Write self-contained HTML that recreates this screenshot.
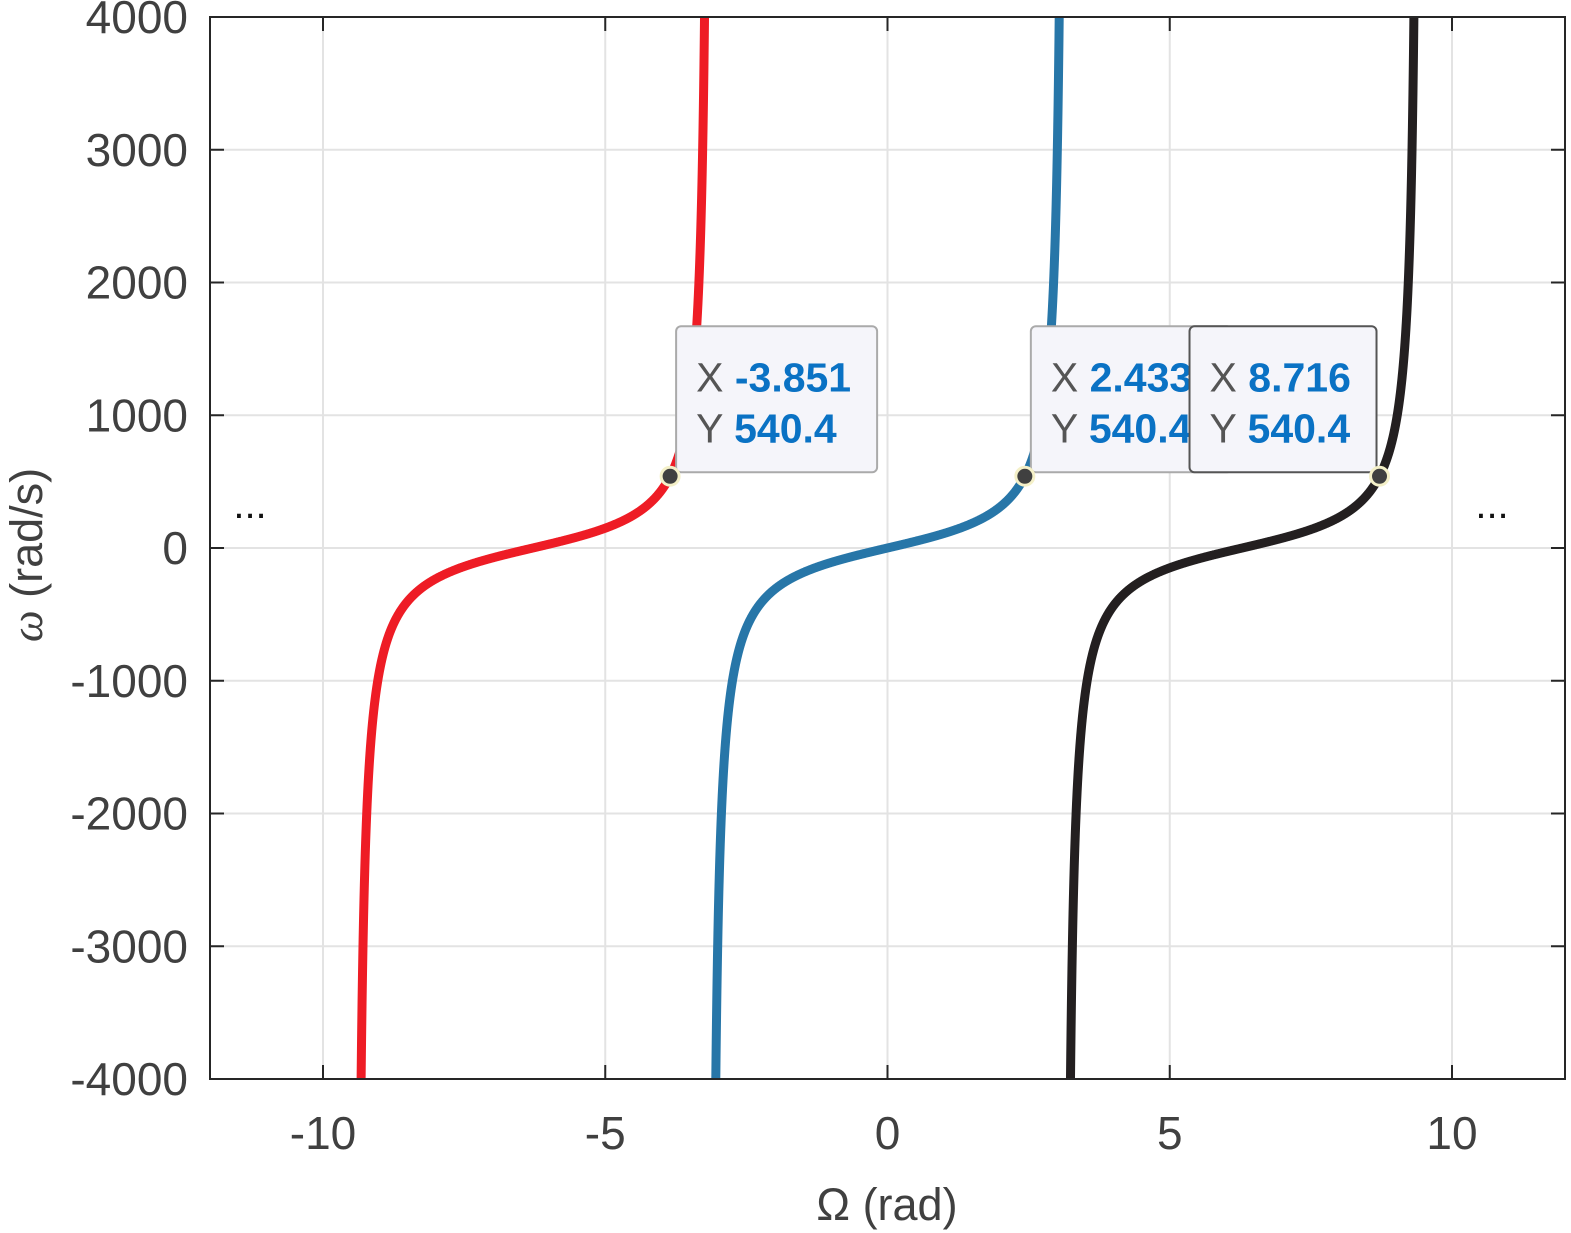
<!DOCTYPE html>
<html><head><meta charset="utf-8"><style>
html,body{margin:0;background:#fff;overflow:hidden;width:1571px;height:1233px}
svg{display:block}
svg text{font-family:"Liberation Sans",sans-serif}
</style></head><body>
<svg id="chart" width="1571" height="1233" viewBox="0 0 1571 1233" xmlns="http://www.w3.org/2000/svg">
<defs><clipPath id="clip"><rect x="210" y="17" width="1355" height="1062"/></clipPath></defs>
<g id="grid"></g>
<g id="curves" clip-path="url(#clip)"></g>
<rect x="210" y="17" width="1355" height="1062" fill="none" stroke="#262626" stroke-width="2"/>
<g id="ticks"></g>
<text x="250" y="518" font-size="40" text-anchor="middle" fill="#111">...</text>
<text x="1492" y="518" font-size="40" text-anchor="middle" fill="#111">...</text>
<text x="887" y="1220" font-size="45" text-anchor="middle" fill="#404040">Ω (rad)</text>
<text transform="translate(42,555) rotate(-90)" font-size="45" text-anchor="middle" fill="#404040"><tspan font-family="Liberation Serif" font-style="italic">ω</tspan> (rad/s)</text>
<g id="tips"></g>
</svg>
<script>
const xTicks=[-10,-5,0,5,10];
const yTicks=[-4000,-3000,-2000,-1000,0,1000,2000,3000,4000];
const shifts=[-2,0,2]; // multiples of pi
const colors=["#ee1c25","#2776a8","#231f20"];
const gain=[200];
const tipX=[-3.851,2.433,8.716];
const tipY=[540.4,540.4,540.4];
const tipLabelX=["-3.851","2.433","8.716"];
const tipLabelY=["540.4","540.4","540.4"];
const X=v=>887.5+v*56.45;
const Y=v=>548-v*0.13275;
const ns="http://www.w3.org/2000/svg";
const g=document.getElementById('grid'),t=document.getElementById('ticks'),c=document.getElementById('curves'),tp=document.getElementById('tips');
function mk(tag,attrs,parent){const e=document.createElementNS(ns,tag);for(const k in attrs)e.setAttribute(k,attrs[k]);parent.appendChild(e);return e;}
xTicks.forEach(v=>{
 const l=mk('line',{x1:X(v),x2:X(v),y1:17,y2:1079,stroke:'#e3e3e3','stroke-width':2},g);
 
 
 mk('line',{x1:X(v),x2:X(v),y1:1079,y2:1065,stroke:'#262626','stroke-width':2},t);
 mk('line',{x1:X(v),x2:X(v),y1:17,y2:31,stroke:'#262626','stroke-width':2},t);
 const tx=mk('text',{x:X(v),y:1149,'font-size':46,'text-anchor':'middle',fill:'#404040'},t);
 tx.textContent=v;
 
 
});
yTicks.forEach(v=>{
 const l=mk('line',{x1:210,x2:1565,y1:Y(v),y2:Y(v),stroke:'#e3e3e3','stroke-width':2},g);
 
 
 mk('line',{x1:210,x2:224,y1:Y(v),y2:Y(v),stroke:'#262626','stroke-width':2},t);
 mk('line',{x1:1551,x2:1565,y1:Y(v),y2:Y(v),stroke:'#262626','stroke-width':2},t);
 const tx=mk('text',{x:188,y:Y(v)+16,'font-size':46,'text-anchor':'end',fill:'#404040'},t);
 tx.textContent=v;
 
 
});
shifts.forEach((s,i)=>{
 const ctr=s*Math.PI;let d='';
 for(let k=0;k<=2000;k++){
  const w=-Math.PI+0.02+(2*Math.PI-0.04)*k/2000;
  const om=gain[0]*Math.tan(w/2);
  if(Math.abs(om)>6000)continue;
  d+=(d?'L':'M')+X(ctr+w).toFixed(2)+','+Y(om).toFixed(2);
 }
 const p=mk('path',{d:d,fill:'none',stroke:colors[i],'stroke-width':9},c);
 
 
});
const boxW=[201,201,187];
const boxLeft=[false,false,true];
tipX.forEach((v,i)=>{
 const px=X(v),py=Y(tipY[i]);
 const bx=boxLeft[i]?px-3-boxW[i]:px+6,by=py-150;
 const r=mk('rect',{x:bx,y:by,width:boxW[i],height:146,rx:5,fill:'#f5f5fa',stroke:i==2?'#555':'#aaa','stroke-width':2},tp);
 
 
 const t1=mk('text',{x:bx+20,y:by+65,'font-size':41,fill:'#555'},tp);
 t1.innerHTML='X <tspan fill="#0a72c4" font-weight="bold">'+tipLabelX[i]+'</tspan>';
 
 
 const t2=mk('text',{x:bx+20,y:by+116,'font-size':41,fill:'#555'},tp);
 t2.innerHTML='Y <tspan fill="#0a72c4" font-weight="bold">'+tipLabelY[i]+'</tspan>';
 
 
 const m=mk('circle',{cx:px,cy:py,r:9,fill:'#404040',stroke:'#f4f0c8','stroke-width':3},tp);
 
 
});
</script>
</body></html>
